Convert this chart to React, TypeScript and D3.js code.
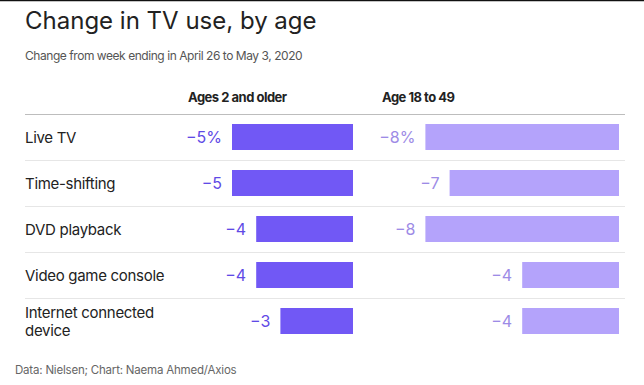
import React from "react";
import * as d3 from "d3";

const categories: string[][] = [
  ["Live TV"],
  ["Time-shifting"],
  ["DVD playback"],
  ["Video game console"],
  ["Internet connected", "device"],
];
const seriesNames = ["Ages 2 and older", "Age 18 to 49"];
const ages2Plus = [-5, -5, -4, -4, -3];
const ages18to49 = [-8, -7, -8, -4, -4];

const W = 644;
const H = 385;
const FONT = "Inter, 'Noto Sans', sans-serif";

export default function App() {
  const y = d3
    .scaleBand<number>()
    .domain(d3.range(categories.length))
    .range([114, 344])
    .paddingInner(0.435)
    .paddingOuter(0.2175);
  const x = d3.scaleLinear().domain([0, 8]).range([0, 193.6]);
  const colRight = [353, 619];
  const barColors = ["#7158f5", "#b4a3fb"];
  const labelColors = ["#5f4ae6", "#9d8be6"];
  const series = [ages2Plus, ages18to49];
  const headerX = [188, 382];
  const step = y.step();

  return (
    <svg
      width={W}
      height={H}
      style={{ position: "absolute", left: 0, top: 0, background: "#fff" }}
      fontFamily={FONT}
    >
      <line x1={0} x2={W} y1={0.5} y2={0.5} stroke="#111" strokeWidth={1.5} />
      <text x={25} y={29} fontSize={24} fill="#222">
        Change in TV use, by age
      </text>
      <text x={25} y={60} fontSize={12} fill="#555" letterSpacing={-0.45}>
        Change from week ending in April 26 to May 3, 2020
      </text>
      {seriesNames.map((s, i) => (
        <text key={s} x={headerX[i]} y={102} fontSize={13} fontWeight={700} fill="#222" letterSpacing={-0.5}>
          {s}
        </text>
      ))}
      <line x1={25} x2={625} y1={114.5} y2={114.5} stroke="#bdbdbd" strokeWidth={1} />
      {categories.slice(1).map((_, i) => {
        const yy = (y(i + 1) as number) - (step - y.bandwidth()) / 2;
        return (
          <line key={i} x1={25} x2={625} y1={Math.round(yy) + 0.5} y2={Math.round(yy) + 0.5} stroke="#e6e6e6" strokeWidth={1} />
        );
      })}
      {categories.map((lines, i) => {
        const cy = (y(i) as number) + y.bandwidth() / 2;
        const lh = 17.5;
        const y0 = cy + 6 - ((lines.length - 1) * lh) / 2;
        return (
          <text key={i} x={25} fontSize={15} fill="#222" letterSpacing={-0.3}>
            {lines.map((l, j) => (
              <tspan key={j} x={25} y={y0 + j * lh}>
                {l}
              </tspan>
            ))}
          </text>
        );
      })}
      {series.map((vals, si) =>
        vals.map((v, i) => {
          const w = x(Math.abs(v));
          const left = colRight[si] - w;
          const yy = y(i) as number;
          const cy = yy + y.bandwidth() / 2;
          return (
            <g key={`${si}-${i}`}>
              <rect x={left} y={yy} width={w} height={y.bandwidth()} fill={barColors[si]} />
              <text
                x={left - 10}
                y={cy + 5.5}
                fontSize={16}
                textAnchor="end"
                fill={labelColors[si]}
              >
                {"\u2212" + Math.abs(v) + (i === 0 ? "%" : "")}
              </text>
            </g>
          );
        })
      )}
      <text x={15} y={374} fontSize={11.5} fill="#666" letterSpacing={-0.2}>
        Data: Nielsen; Chart: Naema Ahmed/Axios
      </text>
    </svg>
  );
}
